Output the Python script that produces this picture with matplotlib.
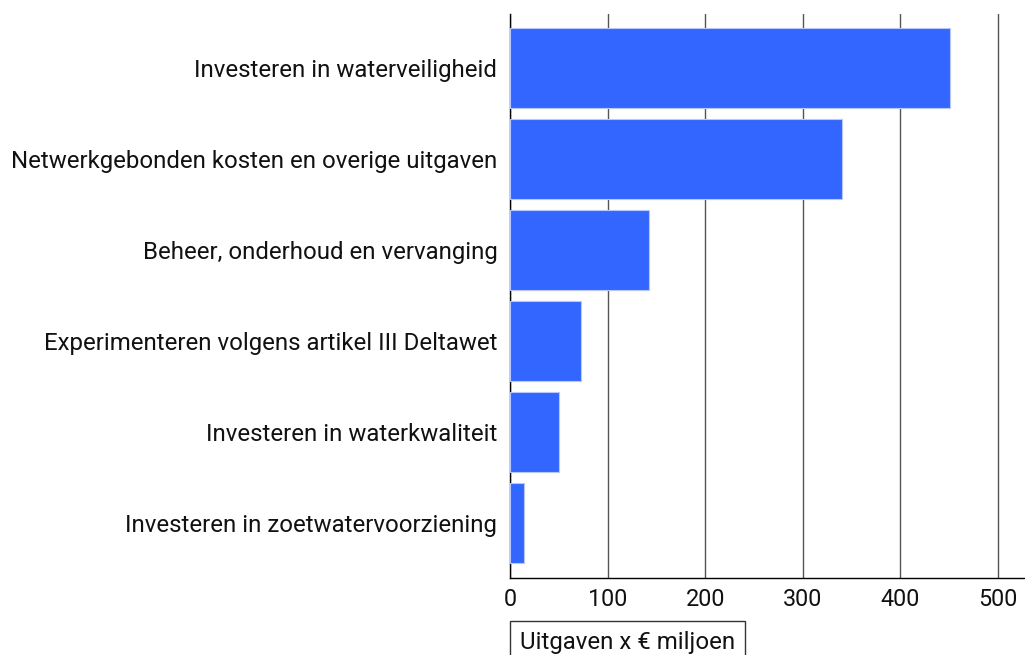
import matplotlib
matplotlib.use("Agg")
import matplotlib.pyplot as plt

categories = [
    "Investeren in waterveiligheid",
    "Netwerkgebonden kosten en overige uitgaven",
    "Beheer, onderhoud en vervanging",
    "Experimenteren volgens artikel III Deltawet",
    "Investeren in waterkwaliteit",
    "Investeren in zoetwatervoorziening",
]
values = [451, 340, 142, 72, 50, 14]
xticks = [0, 100, 200, 300, 400, 500]
xlabel = "Uitgaven x € miljoen"

plt.rcParams['font.family'] = ['Roboto', 'DejaVu Sans']

fig = plt.figure(figsize=(10.25, 6.55), dpi=100)
ax = fig.add_axes([0.498, 0.1176, 0.502, 0.8616])

y = list(range(len(categories)))
ax.barh(y, values, height=0.88, color="#3366ff", edgecolor="#b8c8ff", linewidth=0.8, zorder=3)
ax.set_ylim(len(categories) - 1 + 0.61, -0.6)
ax.set_xlim(0, 527.7)
ax.set_yticks(y)
ax.set_yticklabels(categories, fontsize=17.3, color="#111111")
ax.set_xticks(xticks)
ax.set_xticklabels([str(t) for t in xticks], fontsize=16.8, color="#111111")
ax.tick_params(axis='y', length=0, pad=9.5)
ax.tick_params(axis='x', length=0, pad=7)
ax.xaxis.grid(True, color="#555555", linewidth=1.0, zorder=0)
ax.set_axisbelow(True)
for s in ["top", "right"]:
    ax.spines[s].set_visible(False)
ax.spines["left"].set_color("black")
ax.spines["bottom"].set_color("black")
ax.spines["left"].set_linewidth(1.0)
ax.spines["bottom"].set_linewidth(1.0)

fig.text(0.5073, 0.0092, xlabel, fontsize=17.3, color="#111111", ha="left", va="baseline",
         bbox=dict(boxstyle="square,pad=0.42", facecolor="white", edgecolor="#333333", linewidth=1.0))

fig.savefig("out.png", dpi=100)
